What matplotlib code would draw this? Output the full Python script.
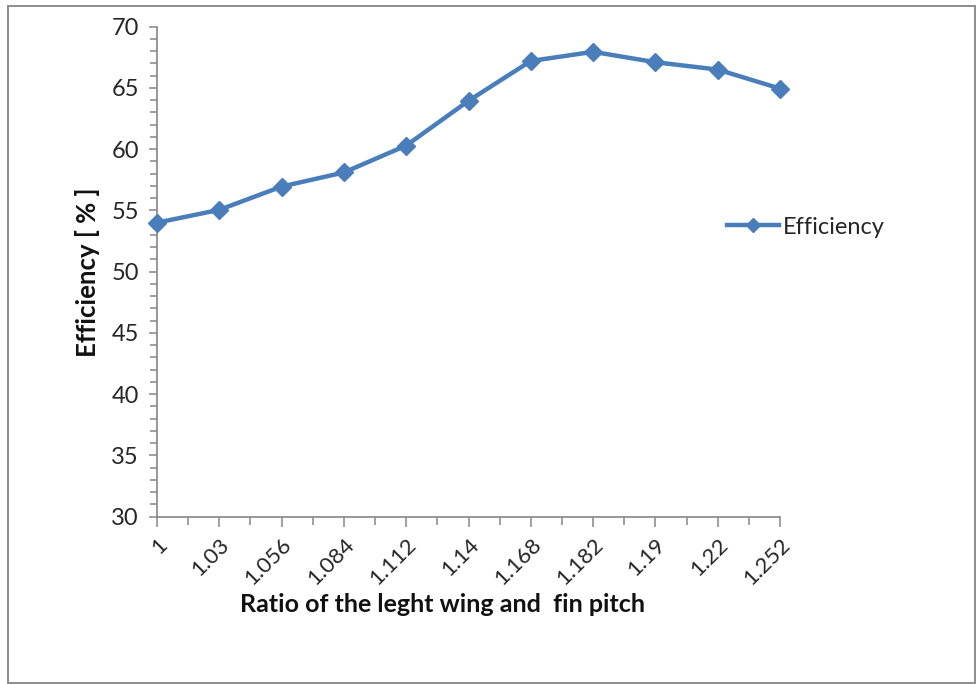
import matplotlib
matplotlib.use("Agg")
import matplotlib.pyplot as plt
from matplotlib.ticker import MultipleLocator
from matplotlib.patches import Rectangle

plt.rcParams['font.family'] = ['Lato', 'DejaVu Sans']

categories = ["1", "1.03", "1.056", "1.084", "1.112", "1.14", "1.168", "1.182", "1.19", "1.22", "1.252"]
efficiency = [54.0, 55.05, 56.95, 58.1, 60.3, 63.95, 67.2, 67.95, 67.1, 66.5, 64.95]

W, H = 977, 684
fig = plt.figure(figsize=(W / 100, H / 100), dpi=100)
fig.patch.set_facecolor('white')

# outer border
fig.add_artist(Rectangle((8 / W, 1 - 683 / H), (975 - 8) / W, (683 - 6) / H,
                         transform=fig.transFigure, fill=False,
                         edgecolor='#8c8c8c', linewidth=1.4))

ax = fig.add_axes([157 / W, 1 - 516.7 / H, (780 - 157) / W, (516.7 - 26.7) / H])
x = list(range(len(categories)))
color = '#4A7EBB'
ax.plot(x, efficiency, color=color, lw=3.2, marker='D', markersize=9.5,
        markerfacecolor=color, markeredgecolor=color, label='Efficiency',
        clip_on=False, zorder=5)

ax.set_xlim(0, len(categories) - 1)
ax.set_ylim(30, 70)
ax.set_xticks(x)
ax.set_xticklabels(categories, rotation=45, ha='right', rotation_mode='anchor')
ax.xaxis.set_minor_locator(MultipleLocator(0.5))
ax.yaxis.set_major_locator(MultipleLocator(5))
ax.yaxis.set_minor_locator(MultipleLocator(1))

for s in ['top', 'right']:
    ax.spines[s].set_visible(False)
for s in ['left', 'bottom']:
    ax.spines[s].set_color('#868686')
    ax.spines[s].set_linewidth(1.2)

ax.tick_params(axis='both', which='both', color='#868686', width=1.1, direction='out')
ax.tick_params(axis='y', which='major', length=6, labelsize=17, pad=7, labelcolor='#262626')
ax.tick_params(axis='y', which='minor', length=5)
ax.tick_params(axis='x', which='major', length=7, labelsize=16, pad=6, labelcolor='#262626')
ax.tick_params(axis='x', which='minor', length=6)

fig.text(87 / W, 1 - 272 / H, 'Efficiency [ % ]', rotation=90, ha='center', va='center',
         fontsize=18.5, fontweight='bold', color='#111111')
fig.text(442 / W, 1 - 605 / H, 'Ratio of the leght wing and  fin pitch', ha='center', va='center',
         fontsize=18, fontweight='bold', color='#111111')

fig.legend(loc='center left', bbox_to_anchor=(706 / W, 1 - 227 / H), frameon=False,
           fontsize=17, handlelength=2.2, handletextpad=0.15, labelcolor='#262626',
           markerscale=0.8)

fig.savefig('out.png', dpi=100, facecolor='white')
